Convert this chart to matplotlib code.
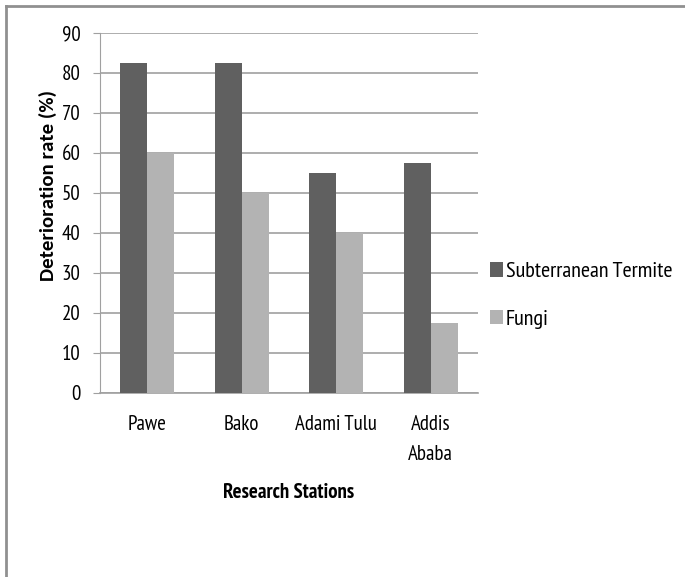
import numpy as np
import matplotlib.pyplot as plt

stations = ['Pawe', 'Bako', 'Adami Tulu', 'Addis\nAbaba']
termite = [82.5, 82.5, 55, 57.5]
fungi = [60, 50, 40, 17.5]
yticks = [0, 10, 20, 30, 40, 50, 60, 70, 80, 90]

plt.rcParams['font.family'] = ['PT Sans Narrow', 'DejaVu Sans']

W, H = 685, 577
fig = plt.figure(figsize=(W / 100, H / 100), dpi=100)
ax = fig.add_axes([100 / W, 1 - 393 / H, 378 / W, 360 / H])

x = np.arange(len(stations))
bw = 0.286
ax.bar(x - bw / 2, termite, bw, color='#606060', label='Subterranean Termite', zorder=3)
ax.bar(x + bw / 2, fungi, bw, color='#b3b3b3', label='Fungi', zorder=3)

ax.set_xlim(-0.5, len(stations) - 0.5)
ax.set_ylim(0, 90)
ax.set_yticks(yticks)
ax.set_xticks(x)
ax.set_xticklabels(stations, fontsize=15, linespacing=1.75)
ax.tick_params(axis='y', labelsize=15, length=5, color='#a0a0a0', pad=9)
ax.tick_params(axis='x', length=0, pad=16)
ax.yaxis.grid(True, color='#a0a0a0', linewidth=1.2, zorder=0)
ax.set_axisbelow(True)
for s in ['top', 'right']:
    ax.spines[s].set_visible(False)
ax.spines['left'].set_color('#a0a0a0')
ax.spines['bottom'].set_color('#a0a0a0')
ax.spines['bottom'].set_linewidth(1.2)

fig.text(48 / W, 1 - 186 / H, 'Deterioration rate (%)', rotation=90, ha='center',
         va='center', family='Carlito', fontweight='bold', fontsize=15)
fig.text(289 / W, 1 - 493 / H, 'Research Stations', ha='center', va='center',
         fontsize=15, fontweight='bold')

ax.legend(loc='center left', bbox_to_anchor=(1.032, 0.27), frameon=False,
          fontsize=16, handlelength=0.6, handleheight=0.6, handletextpad=0.1,
          labelspacing=1.3, borderaxespad=0, borderpad=0)

# outer chart frame (only top and left visible)
fig.add_artist(plt.Line2D([5.5 / W, 5.5 / W], [0, 1 - 5.5 / H], transform=fig.transFigure,
                          color='#909090', linewidth=2))
fig.add_artist(plt.Line2D([5.5 / W, 1], [1 - 5.5 / H, 1 - 5.5 / H], transform=fig.transFigure,
                          color='#909090', linewidth=2))

fig.savefig('out.png', dpi=100)
